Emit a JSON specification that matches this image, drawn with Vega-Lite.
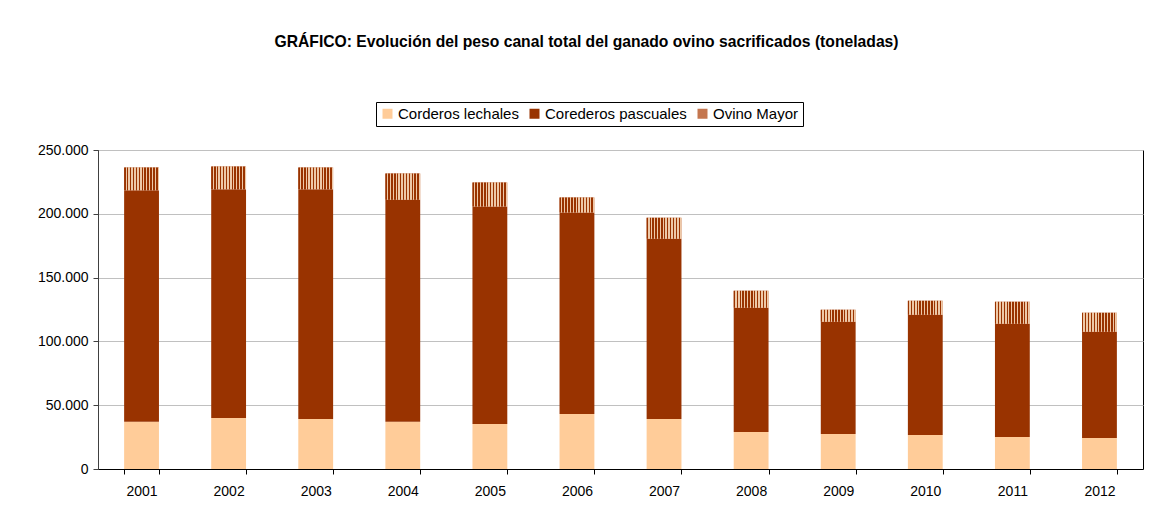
{
  "$schema": "https://vega.github.io/schema/vega-lite/v6.json",
  "width": 1045,
  "height": 319,
  "autosize": {"type": "none"},
  "padding": {"left": 98, "top": 150, "right": 8, "bottom": 37},
  "background": "white",
  "data": {
    "values": [
      {"anio": "2001", "serie": "Corderos lechales", "orden": 1, "t": 37000},
      {"anio": "2001", "serie": "Corederos pascuales", "orden": 2, "t": 181400},
      {"anio": "2001", "serie": "Ovino Mayor", "orden": 3, "t": 17900},
      {"anio": "2002", "serie": "Corderos lechales", "orden": 1, "t": 40000},
      {"anio": "2002", "serie": "Corederos pascuales", "orden": 2, "t": 179200},
      {"anio": "2002", "serie": "Ovino Mayor", "orden": 3, "t": 17800},
      {"anio": "2003", "serie": "Corderos lechales", "orden": 1, "t": 39200},
      {"anio": "2003", "serie": "Corederos pascuales", "orden": 2, "t": 180000},
      {"anio": "2003", "serie": "Ovino Mayor", "orden": 3, "t": 17100},
      {"anio": "2004", "serie": "Corderos lechales", "orden": 1, "t": 37000},
      {"anio": "2004", "serie": "Corederos pascuales", "orden": 2, "t": 174000},
      {"anio": "2004", "serie": "Ovino Mayor", "orden": 3, "t": 20500},
      {"anio": "2005", "serie": "Corderos lechales", "orden": 1, "t": 35300},
      {"anio": "2005", "serie": "Corederos pascuales", "orden": 2, "t": 170400},
      {"anio": "2005", "serie": "Ovino Mayor", "orden": 3, "t": 18800},
      {"anio": "2006", "serie": "Corderos lechales", "orden": 1, "t": 43200},
      {"anio": "2006", "serie": "Corederos pascuales", "orden": 2, "t": 157800},
      {"anio": "2006", "serie": "Ovino Mayor", "orden": 3, "t": 11700},
      {"anio": "2007", "serie": "Corderos lechales", "orden": 1, "t": 39200},
      {"anio": "2007", "serie": "Corederos pascuales", "orden": 2, "t": 141300},
      {"anio": "2007", "serie": "Ovino Mayor", "orden": 3, "t": 16500},
      {"anio": "2008", "serie": "Corderos lechales", "orden": 1, "t": 29000},
      {"anio": "2008", "serie": "Corederos pascuales", "orden": 2, "t": 97400},
      {"anio": "2008", "serie": "Ovino Mayor", "orden": 3, "t": 13300},
      {"anio": "2009", "serie": "Corderos lechales", "orden": 1, "t": 27500},
      {"anio": "2009", "serie": "Corederos pascuales", "orden": 2, "t": 87900},
      {"anio": "2009", "serie": "Ovino Mayor", "orden": 3, "t": 9400},
      {"anio": "2010", "serie": "Corderos lechales", "orden": 1, "t": 26700},
      {"anio": "2010", "serie": "Corederos pascuales", "orden": 2, "t": 94200},
      {"anio": "2010", "serie": "Ovino Mayor", "orden": 3, "t": 11000},
      {"anio": "2011", "serie": "Corderos lechales", "orden": 1, "t": 25100},
      {"anio": "2011", "serie": "Corederos pascuales", "orden": 2, "t": 88700},
      {"anio": "2011", "serie": "Ovino Mayor", "orden": 3, "t": 17300},
      {"anio": "2012", "serie": "Corderos lechales", "orden": 1, "t": 24300},
      {"anio": "2012", "serie": "Corederos pascuales", "orden": 2, "t": 83200},
      {"anio": "2012", "serie": "Ovino Mayor", "orden": 3, "t": 14900}
    ]
  },
  "layer": [
    {
      "mark": {"type": "bar"},
      "encoding": {
        "x": {
          "field": "anio",
          "type": "ordinal",
          "scale": {"paddingInner": 0.6, "paddingOuter": 0.3},
          "axis": {
            "title": null,
            "labelAngle": 0,
            "tickBand": "extent",
            "tickSize": 5,
            "labelPadding": 10,
            "domainColor": "#000000",
            "tickColor": "#000000",
            "grid": false
          }
        },
        "y": {
          "field": "t",
          "type": "quantitative",
          "aggregate": "sum",
          "stack": "zero",
          "scale": {"domain": [0, 250000], "nice": false},
          "axis": {
            "title": null,
            "values": [0, 50000, 100000, 150000, 200000, 250000],
            "format": ",.0f",
            "tickSize": 5,
            "labelPadding": 5,
            "domainColor": "#404040",
            "tickColor": "#404040",
            "gridColor": "#c0c0c0"
          }
        },
        "color": {
          "field": "serie",
          "type": "nominal",
          "scale": {
            "domain": ["Corderos lechales", "Corederos pascuales", "Ovino Mayor"],
            "range": ["#ffcc99", "#993300", "#c4764f"]
          },
          "legend": {
            "title": null,
            "orient": "none",
            "direction": "horizontal",
            "legendX": 278,
            "legendY": -48,
            "strokeColor": "#000000",
            "padding": 4,
            "symbolType": "square",
            "symbolSize": 100,
            "symbolStrokeWidth": 0,
            "symbolOpacity": 1,
            "labelFontSize": 15,
            "labelOffset": 3,
            "columnPadding": 8
          }
        },
        "order": {"field": "orden", "type": "quantitative"}
      }
    },
    {
      "transform": [
        {"stack": "t", "groupby": ["anio"], "sort": [{"field": "orden", "order": "ascending"}], "as": ["y0", "y1"]},
        {"filter": "datum.serie === 'Ovino Mayor'"}
      ],
      "mark": {
        "type": "bar",
        "fill": {
          "gradient": "linear",
          "x1": 0, "x2": 1, "y1": 0, "y2": 0,
          "stops": [
            {"offset": 0, "color": "#993300"}, {"offset": 0.0417, "color": "#993300"},
            {"offset": 0.0417, "color": "#eec9a8"}, {"offset": 0.0833, "color": "#eec9a8"},
            {"offset": 0.0833, "color": "#993300"}, {"offset": 0.125, "color": "#993300"},
            {"offset": 0.125, "color": "#eec9a8"}, {"offset": 0.1667, "color": "#eec9a8"},
            {"offset": 0.1667, "color": "#993300"}, {"offset": 0.2083, "color": "#993300"},
            {"offset": 0.2083, "color": "#eec9a8"}, {"offset": 0.25, "color": "#eec9a8"},
            {"offset": 0.25, "color": "#993300"}, {"offset": 0.2917, "color": "#993300"},
            {"offset": 0.2917, "color": "#eec9a8"}, {"offset": 0.3333, "color": "#eec9a8"},
            {"offset": 0.3333, "color": "#993300"}, {"offset": 0.375, "color": "#993300"},
            {"offset": 0.375, "color": "#eec9a8"}, {"offset": 0.4167, "color": "#eec9a8"},
            {"offset": 0.4167, "color": "#993300"}, {"offset": 0.4583, "color": "#993300"},
            {"offset": 0.4583, "color": "#eec9a8"}, {"offset": 0.5, "color": "#eec9a8"},
            {"offset": 0.5, "color": "#993300"}, {"offset": 0.5417, "color": "#993300"},
            {"offset": 0.5417, "color": "#eec9a8"}, {"offset": 0.5833, "color": "#eec9a8"},
            {"offset": 0.5833, "color": "#993300"}, {"offset": 0.625, "color": "#993300"},
            {"offset": 0.625, "color": "#eec9a8"}, {"offset": 0.6667, "color": "#eec9a8"},
            {"offset": 0.6667, "color": "#993300"}, {"offset": 0.7083, "color": "#993300"},
            {"offset": 0.7083, "color": "#eec9a8"}, {"offset": 0.75, "color": "#eec9a8"},
            {"offset": 0.75, "color": "#993300"}, {"offset": 0.7917, "color": "#993300"},
            {"offset": 0.7917, "color": "#eec9a8"}, {"offset": 0.8333, "color": "#eec9a8"},
            {"offset": 0.8333, "color": "#993300"}, {"offset": 0.875, "color": "#993300"},
            {"offset": 0.875, "color": "#eec9a8"}, {"offset": 0.9167, "color": "#eec9a8"},
            {"offset": 0.9167, "color": "#993300"}, {"offset": 0.9583, "color": "#993300"},
            {"offset": 0.9583, "color": "#eec9a8"}, {"offset": 1, "color": "#eec9a8"}
          ]
        }
      },
      "encoding": {
        "x": {"field": "anio", "type": "ordinal"},
        "y": {"field": "y0", "type": "quantitative"},
        "y2": {"field": "y1"}
      }
    }
  ],
  "title": {
    "text": "GRÁFICO: Evolución del peso canal total del ganado ovino sacrificados (toneladas)",
    "fontSize": 15.7,
    "fontWeight": "bold",
    "color": "#000000",
    "anchor": "middle",
    "dx": -34,
    "offset": 51
  },
  "config": {
    "locale": {"number": {"decimal": ",", "thousands": ".", "grouping": [3], "currency": ["", " €"]}},
    "font": "Liberation Sans",
    "view": {"stroke": "#000000", "strokeWidth": 1},
    "axis": {"labelFont": "Liberation Sans", "labelFontSize": 14, "labelColor": "#000000"},
    "legend": {"labelFont": "Liberation Sans", "titleFont": "Liberation Sans", "labelColor": "#000000", "titleColor": "#000000"}
  }
}
